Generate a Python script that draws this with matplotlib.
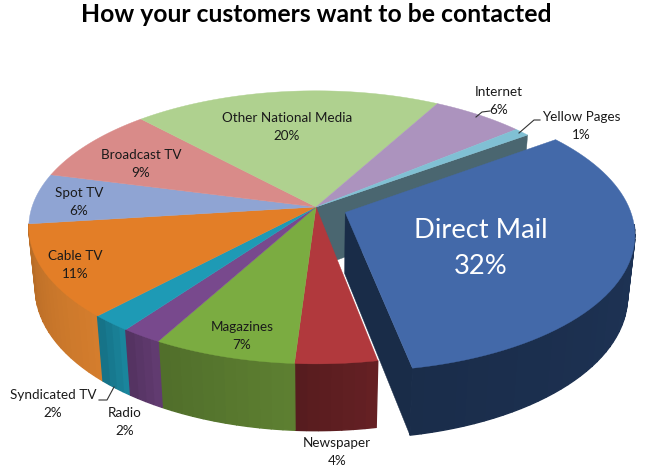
import numpy as np
import matplotlib
matplotlib.use("Agg")
from matplotlib import pyplot as plt
from matplotlib.colors import to_rgb

plt.rcParams["font.family"] = ["Lato", "DejaVu Sans"]

# clockwise from Direct Mail
names = ["Direct Mail", "Newspaper", "Magazines", "Radio", "Syndicated TV", "Cable TV",
         "Spot TV", "Broadcast TV", "Other National Media", "Internet", "Yellow Pages"]
shares = [32, 4, 7, 2, 2, 11, 6, 9, 20, 6, 1]
top_colors = ["#4369A9", "#B1393D", "#7BAC41", "#78498D", "#1E9AB5", "#E37E27",
              "#8FA4D3", "#D98B89", "#AFD18F", "#AC93BE", "#80C0D4"]
wall_colors = ["#1C3050", "#5E1E21", "#57772E", "#5B3769", "#187C92", "#C6752A",
               "#6F80A5", "#A86C6A", "#88A26F", "#857292", "#4A6670"]

# projection of the pie, in pixels of the figure
cx, cy = 316.0, 207.0
rx, ry, rz = 284.0, 133.5, 62.0
k_back, k_down = 0.149, 0.023
start_deg = 54.1
explode = 0.11


def project(x, y, z):
    w = 1 + k_back * y + k_down * z
    return cx + rx * x / w, cy + (-ry * y + rz * z) / w


def arc(a0, a1, n=60):
    a = np.radians(np.linspace(a0, a1, n))
    return np.sin(a), np.cos(a)


fig = plt.figure(figsize=(6.49, 4.72), dpi=100)
ax = fig.add_axes([0, 0, 1, 1])
ax.set_xlim(0, 649)
ax.set_ylim(472, 0)
ax.axis("off")

edges = start_deg + 3.6 * np.concatenate([[0], np.cumsum(shares)])


def draw_wall(i, ox=0.0, oy=0.0, a_from=None):
    a0 = edges[i] if a_from is None else a_from
    a1 = edges[i + 1]
    n = max(4, int((a1 - a0) / 2))
    base = np.array(to_rgb(wall_colors[i]))
    steps = np.linspace(a0, a1, n + 1)
    for j in range(n):
        x, y = arc(steps[j], steps[j + 1], 5)
        x, y = x + ox, y + oy
        tx, ty = project(x, y, 0)
        bx, by = project(x, y, 1)
        shade = 1.07 - 0.14 * j / max(n - 1, 1)
        col = np.clip(base * shade, 0, 1)
        ax.fill(np.r_[tx, bx[::-1]], np.r_[ty, by[::-1]], color=col, lw=1.0)


def draw_top(i, ox=0.0, oy=0.0):
    x, y = arc(edges[i], edges[i + 1])
    px, py = project(np.r_[ox, x + ox], np.r_[oy, y + oy], 0)
    ax.fill(px, py, color=top_colors[i], lw=0.3)


# face of the pie left open by the pulled out slice
sx, sy = arc(edges[0], edges[0], 1)
px, py = project(np.r_[0, sx, sx, 0], np.r_[0, sy, sy, 0], np.array([0, 0, 1, 1]))
ax.fill(px, py, color=wall_colors[10], lw=0.3)

# front of the pie only, the back walls are hidden
for i in [5, 1, 2, 4, 3]:
    draw_wall(i)
for i in range(1, len(shares)):
    draw_top(i)

# pulled out slice
mid = np.radians((edges[0] + edges[1]) / 2)
ox, oy = explode * np.sin(mid), explode * np.cos(mid)
ex, ey = arc(edges[1], edges[1], 1)
px, py = project(np.r_[ox, ex + ox, ex + ox, ox], np.r_[oy, ey + oy, ey + oy, oy],
                 np.array([0, 0, 1, 1]))
ax.fill(px, py, color="#192C48", lw=0.3)
draw_wall(0, ox, oy, a_from=95)
draw_top(0, ox, oy)

# labels
label_pos = {"Other National Media": (287, 118), "Internet": (499, 92), "Yellow Pages": (581, 117),
             "Broadcast TV": (141, 155), "Spot TV": (79, 193), "Cable TV": (75, 256),
             "Magazines": (242, 327), "Syndicated TV": (53, 395), "Radio": (125, 413),
             "Newspaper": (337, 443)}
for name, share in zip(names, shares):
    if name in label_pos:
        lx, ly = label_pos[name]
        ax.text(lx, ly, name, ha="center", va="center", fontsize=9.7, color="#1a1a1a")
        ax.text(lx, ly + 18, "%d%%" % share, ha="center", va="center", fontsize=9.7, color="#1a1a1a")

ax.text(481, 231, names[0], ha="center", va="center", fontsize=19.7, color="white")
ax.text(481, 267, "%d%%" % shares[0], ha="center", va="center", fontsize=19.7, color="white")

# leader lines
ax.plot([99, 107, 114], [400, 400, 387], color="#333333", lw=0.8)
ax.plot([519, 534, 540], [133, 120, 120], color="#333333", lw=0.8)
ax.plot([476, 482, 490], [117, 112, 111], color="#333333", lw=0.8)

ax.text(316, 14, "How your customers want to be contacted", ha="center", va="center",
        fontsize=17.8, fontweight="bold", color="black")

fig.savefig("out.png", dpi=100)
